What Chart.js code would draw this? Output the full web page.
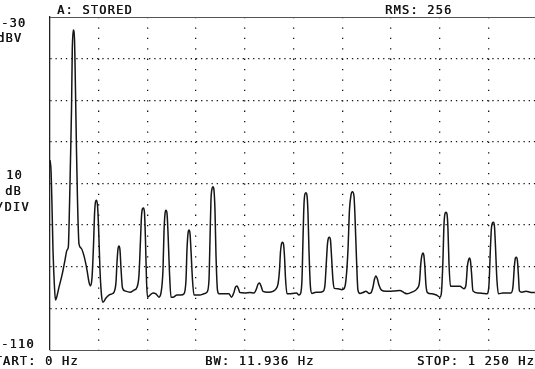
<!DOCTYPE html>
<html><head><meta charset="utf-8">
<script src="https://cdn.jsdelivr.net/npm/chart.js@4.4.0/dist/chart.umd.min.js"></script>
<style>html,body{margin:0;padding:0;background:#fff;overflow:hidden}canvas{display:block}</style>
</head><body>
<canvas id="c" width="535" height="369"></canvas>
<script>
// Spectrum trace: frequency (Hz) and level (dBV)
const freqHz = [
  0, 2.6, 5.1, 7.7, 11.6, 14.1, 18.0, 23.1, 30.8, 38.5, 43.6, 47.0, 50.1, 52.6, 55.2, 57.2, 59.8, 62.9, 65.4, 68.0,
  70.6, 74.4, 79.6, 87.3, 95.0, 100.1, 104.0, 107.8, 111.7, 114.2, 116.8, 119.3, 121.9, 124.5, 128.3, 132.2, 136.0, 143.7, 151.4, 159.1,
  164.3, 169.4, 172.0, 174.6, 177.1, 179.7, 182.2, 186.1, 192.5, 205.3, 215.6, 223.3, 228.4, 232.3, 234.9, 237.4, 240.0, 242.6, 245.1, 247.7,
  250.3, 256.7, 264.4, 272.1, 279.8, 284.9, 290.0, 292.6, 295.2, 297.7, 300.3, 302.9, 306.7, 310.6, 315.7, 326.0, 336.2, 343.9, 349.1, 351.6,
  354.2, 356.8, 359.3, 361.9, 365.8, 369.6, 377.3, 385.0, 395.3, 403.0, 408.1, 410.7, 413.2, 415.8, 418.4, 420.9, 423.5, 426.1, 429.9, 433.8,
  446.6, 459.4, 465.9, 472.3, 476.1, 480.0, 483.8, 487.7, 500.5, 513.3, 523.6, 530.0, 533.9, 537.7, 541.6, 546.7, 559.5, 572.4, 580.1, 585.2,
  589.1, 591.6, 594.2, 596.8, 599.3, 601.9, 604.5, 608.3, 616.0, 623.7, 632.7, 639.1, 643.0, 646.8, 649.4, 651.9, 654.5, 657.1, 659.6, 662.2,
  664.8, 668.6, 672.5, 682.7, 693.0, 700.7, 705.8, 709.7, 712.3, 714.8, 717.4, 720.0, 722.5, 726.4, 730.2, 739.2, 749.5, 754.6, 759.7, 764.9,
  768.7, 772.6, 776.4, 780.3, 782.8, 786.7, 790.5, 795.7, 803.4, 811.1, 818.8, 823.9, 829.0, 832.9, 836.7, 840.6, 844.4, 850.8, 862.4, 872.7,
  885.5, 898.3, 908.6, 916.3, 929.1, 941.9, 948.4, 952.2, 954.8, 957.4, 959.9, 962.5, 965.1, 968.9, 980.5, 992.0, 1001.0, 1004.9, 1008.7, 1011.3,
  1013.8, 1016.4, 1019.0, 1021.5, 1024.1, 1028.0, 1039.5, 1052.3, 1062.6, 1067.7, 1071.6, 1074.2, 1076.7, 1079.3, 1081.9, 1085.7, 1098.5, 1111.4, 1121.6, 1126.8,
  1130.6, 1133.2, 1135.7, 1138.3, 1140.9, 1143.4, 1147.3, 1151.1, 1162.7, 1175.5, 1183.2, 1188.3, 1192.2, 1194.7, 1197.3, 1199.9, 1202.4, 1205.0, 1211.4, 1221.7,
  1232.0, 1244.8
];
const levelDbv = [
  -64.4, -66.8, -75.2, -86.0, -95.1, -98.0, -97.0, -94.9, -92.0, -88.4, -86.0, -85.3, -75.2, -64.4, -52.3, -37.9, -33.1, -35.5, -47.5, -62.0,
  -74.0, -84.5, -85.5, -87.4, -90.8, -93.7, -94.6, -92.7, -84.8, -77.6, -74.4, -74.0, -75.2, -80.0, -90.8, -96.8, -98.5, -97.5, -96.8, -96.5,
  -96.1, -93.7, -88.9, -85.7, -85.0, -86.0, -90.3, -95.1, -95.8, -96.1, -95.6, -94.9, -92.0, -83.6, -77.8, -76.1, -75.9, -77.1, -83.6, -93.2,
  -97.3, -96.8, -96.3, -96.5, -97.3, -96.3, -90.8, -81.7, -77.3, -76.4, -77.1, -81.7, -91.3, -97.3, -97.3, -96.8, -96.8, -96.5, -93.2, -86.0,
  -82.1, -81.2, -81.9, -86.0, -93.2, -96.8, -96.8, -96.8, -96.5, -96.1, -93.2, -83.6, -74.0, -71.3, -70.8, -71.6, -76.4, -87.2, -95.6, -96.5,
  -96.5, -96.5, -97.3, -96.1, -94.9, -94.6, -95.3, -96.2, -96.3, -96.2, -96.3, -95.3, -94.2, -93.9, -94.6, -95.9, -96.1, -95.9, -95.3, -94.2,
  -90.8, -86.5, -84.5, -84.1, -84.5, -87.4, -92.7, -96.5, -96.5, -96.4, -96.3, -96.8, -96.5, -93.2, -83.6, -75.2, -72.5, -72.2, -72.8, -76.9,
  -86.0, -94.9, -96.4, -96.1, -96.1, -95.9, -94.4, -88.4, -84.5, -83.1, -82.9, -83.6, -87.2, -93.2, -95.2, -95.3, -95.5, -95.3, -93.2, -86.0,
  -76.4, -72.8, -72.0, -73.0, -77.6, -87.9, -95.6, -96.4, -96.2, -95.9, -96.4, -96.3, -94.9, -93.0, -92.2, -93.0, -94.4, -95.6, -95.9, -95.9,
  -95.8, -95.7, -96.2, -96.5, -96.1, -95.3, -93.7, -88.9, -87.2, -86.7, -87.4, -90.3, -94.4, -96.2, -96.5, -96.8, -97.3, -96.1, -88.4, -80.0,
  -77.3, -76.9, -77.3, -80.7, -88.9, -94.7, -94.7, -94.7, -95.3, -94.4, -89.8, -88.4, -87.9, -88.6, -91.3, -95.8, -96.3, -96.4, -96.5, -94.4,
  -85.5, -80.7, -79.5, -79.3, -80.2, -84.8, -93.2, -96.5, -96.3, -96.3, -96.3, -94.9, -89.8, -87.9, -87.7, -88.6, -92.0, -95.8, -96.1, -95.9,
  -96.1, -96.2
];

// Axis settings (display spans 0 Hz .. just below the 1250 Hz stop, -30 .. -110 dBV)
const freqMinHz = 0;
const freqMaxVisibleHz = 1245;
const freqDivisionsHz = [125, 250, 375, 500, 625, 750, 875, 1000, 1125];
const levelTopDbv = -30;
const levelBottomDbv = -110;
const levelDivisionsDbv = [-100, -90, -80, -70, -60, -50, -40];

// Texts
const headerTexts = ['A: STORED', 'RMS: 256'];
const sideTexts = ['-30', 'dBV', '10', 'dB', '/DIV', '-110'];
const footerTexts = ['START: 0 Hz', 'BW: 11.936 Hz', 'STOP: 1 250 Hz'];

const points = freqHz.map((f, i) => ({x: f, y: levelDbv[i]}));

const INK = '#151515';

const textPlugin = {
  id: 'analyzerTexts',
  afterDraw(chart) {
    const {ctx, chartArea} = chart;
    ctx.save();
    // top frame line
    ctx.strokeStyle = '#555';
    ctx.lineWidth = 1;
    ctx.beginPath();
    ctx.moveTo(chartArea.left, chartArea.top + 0.5);
    ctx.lineTo(chartArea.right, chartArea.top + 0.5);
    ctx.stroke();

    ctx.fillStyle = INK;
    ctx.font = '12px "DejaVu Sans Mono", monospace';
    ctx.textBaseline = 'alphabetic';
    ctx.textAlign = 'left';
    if ('letterSpacing' in ctx) ctx.letterSpacing = '1.2px';
    const place = [
      [headerTexts[0], 57, 14],
      [headerTexts[1], 385, 14],
      [sideTexts[0], 1, 27],
      [sideTexts[1], -3, 42],
      [sideTexts[2], 6, 179],
      [sideTexts[3], 5, 195],
      [sideTexts[4], -4, 211],
      [sideTexts[5], 1, 348],
      [footerTexts[0], -14, 365],
      [footerTexts[1], 205, 365],
      [footerTexts[2], 417, 365]
    ];
    place.forEach(([t, x, y]) => {
      ctx.fillText(t, x, y);
      ctx.fillText(t, x + 0.4, y);
    });
    ctx.restore();
  }
};

new Chart(document.getElementById('c'), {
  type: 'scatter',
  data: {
    datasets: [{
      data: points,
      showLine: true,
      borderColor: INK,
      borderWidth: 1.5,
      pointRadius: 0,
      cubicInterpolationMode: 'monotone',
      fill: false
    }]
  },
  options: {
    responsive: false,
    animation: false,
    events: [],
    layout: {padding: {left: 50, top: 17, right: 0, bottom: 19}},
    plugins: {legend: {display: false}, tooltip: {enabled: false}},
    scales: {
      x: {
        type: 'linear',
        min: freqMinHz,
        max: freqMaxVisibleHz,
        afterBuildTicks: (s) => { s.ticks = freqDivisionsHz.map(v => ({value: v})); },
        ticks: {display: false},
        grid: {color: INK, lineWidth: 1.3, drawTicks: false},
        border: {display: true, color: '#555', width: 1, dash: [1.3, 9.1], dashOffset: 0}
      },
      y: {
        type: 'linear',
        min: levelBottomDbv,
        max: levelTopDbv,
        afterBuildTicks: (s) => { s.ticks = levelDivisionsDbv.map(v => ({value: v})); },
        ticks: {display: false},
        grid: {color: INK, lineWidth: 1.3, drawTicks: false},
        border: {display: true, color: '#222', width: 1.3, dash: [1.3, 3.9], dashOffset: 0}
      }
    }
  },
  plugins: [textPlugin]
});
</script>
</body></html>
